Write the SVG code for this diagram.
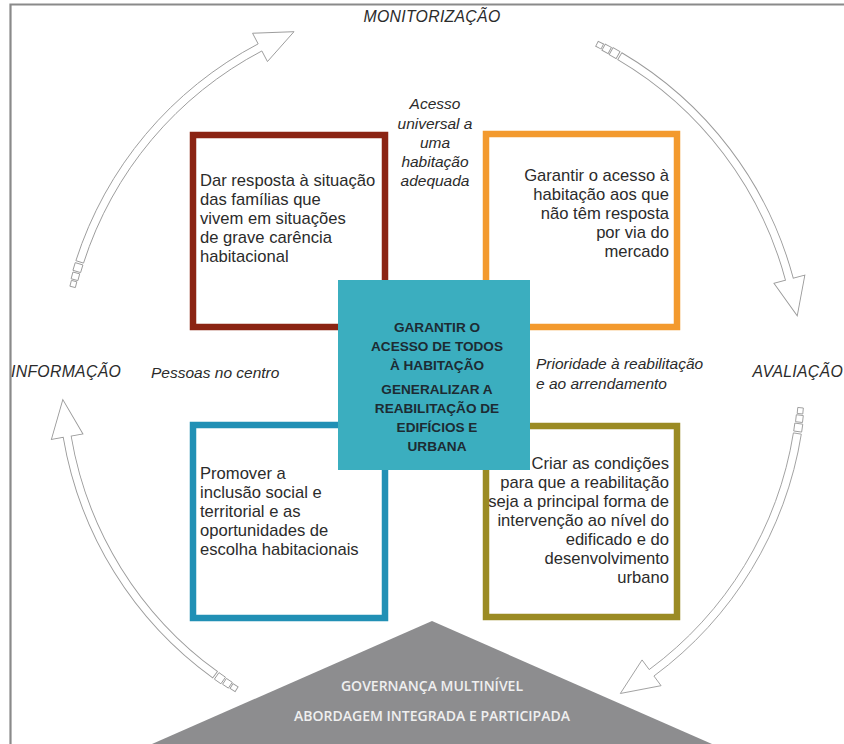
<svg xmlns="http://www.w3.org/2000/svg" xmlns:xlink="http://www.w3.org/1999/xlink" width="844" height="744" viewBox="0 0 844 744">
<style>
.frame{fill:none;stroke:#8a8a8a;stroke-width:2.2}
.box{fill:#fff;stroke-width:6.5}
.body{font-family:"Liberation Sans",Arial,sans-serif;font-size:16.6px;fill:#2b2b2b}
.it{font-family:"Liberation Sans",Arial,sans-serif;font-style:italic;font-size:15.5px;fill:#2b2b2b}
.cap{font-family:"Liberation Sans",Arial,sans-serif;font-style:italic;font-size:15.8px;letter-spacing:0.3px;fill:#2b2b2b}
.center{font-family:"Liberation Sans",Arial,sans-serif;font-weight:700;font-size:13.6px;fill:#1d2b33;text-anchor:middle}
.gov{font-family:"Open Sans","Noto Sans","Liberation Sans",sans-serif;font-weight:600;font-size:14px;fill:#efefef;text-anchor:middle}
.arrow{fill:#fff;stroke:#9a9a9a;stroke-width:0.9}
</style>
<defs>
<g id="cycArrow">
<path d="M 372.28 35.85 A 374 374 0 0 1 240.40 286.50 L 248.12 295.69 L 207.97 306.02 L 227.55 271.18 L 235.26 280.37 A 366 366 0 0 0 364.32 35.08 Z"/>
<rect transform="rotate(4.57) translate(370 0)" x="-4" y="-4" width="8" height="8"/>
<rect transform="rotate(3.17) translate(370 0)" x="-3.5" y="-3.5" width="7" height="7"/>
<rect transform="rotate(1.94) translate(370 0)" x="-2.8" y="-3" width="5.6" height="6"/>
</g>
</defs>
<rect width="844" height="744" fill="#fff"/>
<path class="frame" d="M10.5 744 V4.5 H844"/>

<g id="connectors" class="arrow">
<use xlink:href="#cycArrow" transform="translate(432 375) rotate(-65)"/>
<use xlink:href="#cycArrow" transform="translate(432 375) rotate(3.6)"/>
<use xlink:href="#cycArrow" transform="translate(432 375) rotate(120.4)"/>
<use xlink:href="#cycArrow" transform="translate(432 375) rotate(192.3)"/>
</g>

<g id="labels">
<text class="cap" x="432" y="22" text-anchor="middle">MONITORIZAÇÃO</text>
<text class="cap" x="11" y="377">INFORMAÇÃO</text>
<text class="cap" x="843" y="377" text-anchor="end">AVALIAÇÃO</text>
<text class="it" x="151" y="378">Pessoas no centro</text>
<text class="it" x="536" y="369">Prioridade à reabilitação</text>
<text class="it" x="536" y="389">e ao arrendamento</text>
<text class="it" text-anchor="middle"><tspan x="435" y="109">Acesso</tspan><tspan x="435" y="128.5">universal a</tspan><tspan x="435" y="148">uma</tspan><tspan x="435" y="167">habitação</tspan><tspan x="435" y="186">adequada</tspan></text>
</g>

<g id="box-red">
<rect class="box" x="193" y="135" width="192" height="192" stroke="#8b2413"/>
<text class="body"><tspan x="200" y="186">Dar resposta à situação</tspan><tspan x="200" y="205">das famílias que</tspan><tspan x="200" y="224">vivem em situações</tspan><tspan x="200" y="243">de grave carência</tspan><tspan x="200" y="262">habitacional</tspan></text>
</g>

<g id="box-orange">
<rect class="box" x="486" y="134" width="191" height="193" stroke="#f39a2e"/>
<text class="body" text-anchor="end"><tspan x="669" y="181">Garantir o acesso à</tspan><tspan x="669" y="200">habitação aos que</tspan><tspan x="669" y="219">não têm resposta</tspan><tspan x="669" y="238">por via do</tspan><tspan x="669" y="257">mercado</tspan></text>
</g>

<g id="box-blue">
<rect class="box" x="193" y="425" width="192" height="193" stroke="#2190b5"/>
<text class="body"><tspan x="200" y="479">Promover a</tspan><tspan x="200" y="498">inclusão social e</tspan><tspan x="200" y="517">territorial e as</tspan><tspan x="200" y="536">oportunidades de</tspan><tspan x="200" y="555">escolha habitacionais</tspan></text>
</g>

<g id="box-olive">
<rect class="box" x="486" y="426" width="191" height="191" stroke="#9b8b24"/>
<text class="body" text-anchor="end"><tspan x="669" y="469">Criar as condições</tspan><tspan x="669" y="488">para que a reabilitação</tspan><tspan x="669" y="507">seja a principal forma de</tspan><tspan x="669" y="526">intervenção ao nível do</tspan><tspan x="669" y="545">edificado e do</tspan><tspan x="669" y="564">desenvolvimento</tspan><tspan x="669" y="583">urbano</tspan></text>
</g>

<g id="center">
<rect x="338" y="280" width="192" height="190" fill="#3baebf"/>
<text class="center"><tspan x="437" y="332">GARANTIR O</tspan><tspan x="437" y="351">ACESSO DE TODOS</tspan><tspan x="437" y="370">À HABITAÇÃO</tspan><tspan x="437" y="394">GENERALIZAR A</tspan><tspan x="437" y="413">REABILITAÇÃO DE</tspan><tspan x="437" y="432">EDIFÍCIOS E</tspan><tspan x="437" y="451">URBANA</tspan></text>
</g>

<g id="governance">
<polygon points="432,621 152,744 712,744" fill="#8d8d8f"/>
<text class="gov" x="432" y="691">GOVERNANÇA MULTINÍVEL</text>
<text class="gov" x="432" y="721">ABORDAGEM INTEGRADA E PARTICIPADA</text>
</g>
</svg>
